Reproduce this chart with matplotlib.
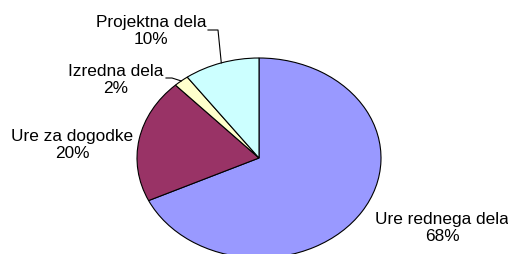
import numpy as np
import matplotlib

matplotlib.use("Agg")
import matplotlib.pyplot as plt

plt.rcParams["font.family"] = ["Liberation Sans", "DejaVu Sans"]

categories = ["Ure rednega dela", "Ure za dogodke", "Izredna dela", "Projektna dela"]
shares = [68, 20, 2, 10]
colors = ["#9999FF", "#993366", "#FFFFCC", "#CCFFFF"]

W, H = 508, 255
CX, CY = 259, 159      # pie centre in pixels
RX, RY = 122, 100      # pie is drawn a bit wider than tall


def px(x, y):
    # pixel position -> data units of the stretched unit pie
    return (x - CX) / RX, (CY - y) / RY


fig = plt.figure(figsize=(W / 100, H / 100), dpi=100)
ax = fig.add_axes([0, 0, 1, 1])
wedges, _ = ax.pie(
    shares,
    colors=colors,
    startangle=90,
    counterclock=False,
    wedgeprops=dict(edgecolor="black", linewidth=0.8),
)
ax.set_aspect("auto")
x0, y1 = px(0, 0)
x1, y0 = px(W, H)
ax.set_xlim(x0, x1)
ax.set_ylim(y0, y1)
ax.axis("off")

# label centres (pixels)
label_pos = [(442, 228), (72, 145), (116, 80), (151, 31)]
for name, val, (lx, ly) in zip(categories, shares, label_pos):
    tx, ty = px(lx, ly)
    ax.text(tx, ty, f"{name}\n{val}%", ha="center", va="center",
            fontsize=12.4, linespacing=1.12)


def edge(w):
    a = np.deg2rad((w.theta1 + w.theta2) / 2)
    return np.cos(a), np.sin(a)


# leader lines for the two small slices
ex, ey = edge(wedges[3])
pts = [px(208, 31), px(218, 31), (ex, ey)]
ax.plot([p[0] for p in pts], [p[1] for p in pts], color="black", lw=0.8)

ex, ey = edge(wedges[2])
pts = [px(166, 79), px(172, 79), (ex, ey)]
ax.plot([p[0] for p in pts], [p[1] for p in pts], color="black", lw=0.8)

fig.savefig("out.png", dpi=100, facecolor="white")
